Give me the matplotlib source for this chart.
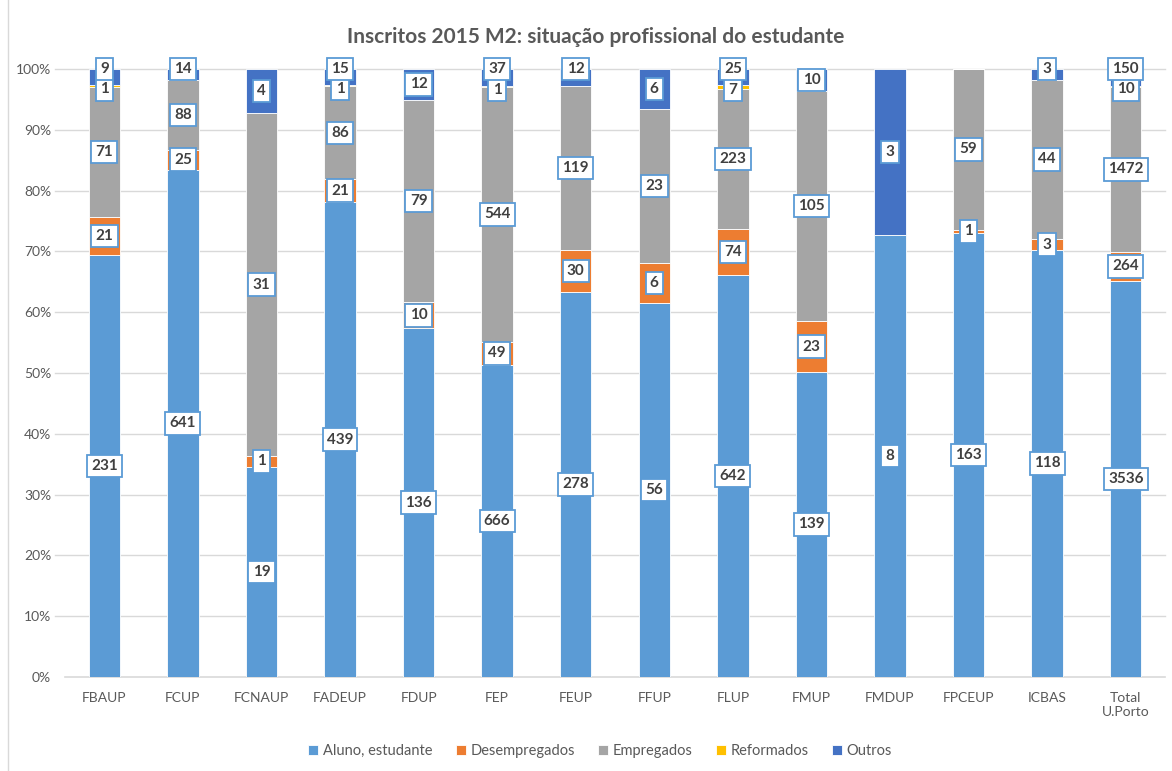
import matplotlib
matplotlib.use("Agg")
import matplotlib.pyplot as plt
import numpy as np
from matplotlib.lines import Line2D

plt.rcParams['font.family'] = ['Lato', 'DejaVu Sans']

categories = ["FBAUP", "FCUP", "FCNAUP", "FADEUP", "FDUP", "FEP", "FEUP", "FFUP",
              "FLUP", "FMUP", "FMDUP", "FPCEUP", "ICBAS", "Total\nU.Porto"]
series_names = ["Aluno, estudante", "Desempregados", "Empregados", "Reformados", "Outros"]
aluno = [231, 641, 19, 439, 136, 666, 278, 56, 642, 139, 8, 163, 118, 3536]
desempregados = [21, 25, 1, 21, 10, 49, 30, 6, 74, 23, 0, 1, 3, 264]
empregados = [71, 88, 31, 86, 79, 544, 119, 23, 223, 105, 0, 59, 44, 1472]
reformados = [1, 0, 0, 1, 0, 1, 0, 0, 7, 0, 0, 0, 0, 10]
outros = [9, 14, 4, 15, 12, 37, 12, 6, 25, 10, 3, 0, 3, 150]
colors = ["#5B9BD5", "#ED7D31", "#A5A5A5", "#FFC000", "#4472C4"]

data = np.array([aluno, desempregados, empregados, reformados, outros], dtype=float)
totals = data.sum(axis=0)
pct = data / totals

fig = plt.figure(figsize=(11.72, 7.71), dpi=100)
ax = fig.add_axes([65/1172, 1 - 677/771, (1165-65)/1172, (677-69)/771])

x = np.arange(len(categories))
bottom = np.zeros(len(categories))
for i, name in enumerate(series_names):
    ax.bar(x, pct[i], 0.4, bottom=bottom, color=colors[i], edgecolor='white',
           linewidth=0.6, label=name, zorder=3)
    for j in range(len(categories)):
        if data[i, j] > 0:
            yc = bottom[j] + pct[i, j] / 2
            if i == 4 and pct[i, j] < 0.03:
                yc = 1.0
            if i == 3:
                yc -= 0.005
            ax.text(x[j], yc, f"{int(data[i, j])}", ha='center', va='center',
                    fontsize=11, fontweight='bold', color='#404040', zorder=5,
                    clip_on=False,
                    bbox=dict(boxstyle='square,pad=0.28', fc='white', ec='#5B9BD5', lw=1.3))
    bottom += pct[i]

ax.set_xlim(-0.5, len(categories) - 0.5)
ax.set_ylim(0, 1)
ax.set_yticks(np.arange(0, 1.01, 0.1))
ax.set_yticklabels([f"{int(round(v*100))}%" for v in np.arange(0, 1.01, 0.1)])
ax.set_xticks(x)
ax.set_xticklabels(categories)
ax.tick_params(axis='both', length=0, labelsize=10, colors='#595959')
ax.tick_params(axis='x', pad=11)
ax.tick_params(axis='y', pad=10)
for s in ['top', 'right', 'left']:
    ax.spines[s].set_visible(False)
ax.spines['bottom'].set_color('#D9D9D9')
ax.spines['bottom'].set_linewidth(1.2)
for v in np.arange(0.1, 1.01, 0.1):
    ax.plot([-0.009, 1], [v, v], transform=ax.get_yaxis_transform(), color='#D9D9D9',
            lw=1, zorder=1, clip_on=False)

fig.text(596/1172, 1 - 37/771, "Inscritos 2015 M2: situação profissional do estudante",
         ha='center', va='center', fontsize=15, fontweight='bold', color='#595959')

leg = fig.legend(loc='center', bbox_to_anchor=(600/1172, 1 - 751/771), ncol=5, frameon=False,
                 fontsize=10.5, handlelength=0.7, handleheight=0.7, handletextpad=0.3,
                 columnspacing=1.6)
for t in leg.get_texts():
    t.set_color('#595959')

fig.add_artist(Line2D([8/1172, 8/1172], [0, 1], color='#D9D9D9', lw=1, transform=fig.transFigure))

fig.savefig("out.png", dpi=100)
